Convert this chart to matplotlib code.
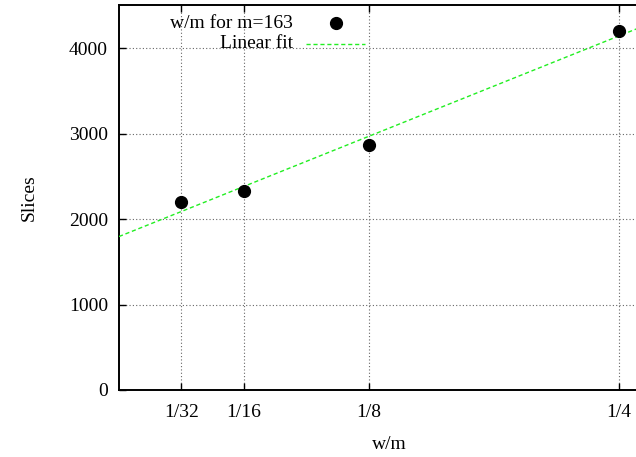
import numpy as np
import matplotlib
matplotlib.use('Agg')
import matplotlib.pyplot as plt
from matplotlib.lines import Line2D

plt.rcParams['font.family'] = ['Liberation Serif', 'DejaVu Serif']

# data
ratios = [1 / 32, 1 / 16, 1 / 8, 1 / 4]
tick_labels = ['1/32', '1/16', '1/8', '1/4']
slices = [2195, 2328, 2863, 4195]
y_ticks = [0, 1000, 2000, 3000, 4000]

# linear fit through the points
slope, icpt = np.polyfit(ratios, slices, 1)

FS = 14

fig = plt.figure(figsize=(6.36, 4.57), dpi=100)
# frame runs past the right edge of the picture, like the original
ax = fig.add_axes([119 / 636, 67 / 457, 540 / 636, 384.7 / 457])
ax.set_xlim(0, 0.27)
ax.set_ylim(0, 4500)

ax.set_xticks(ratios)
ax.set_xticklabels(tick_labels)
ax.set_yticks(y_ticks)
ax.tick_params(direction='in', length=5, width=1, top=True, right=True,
               labelsize=FS)
ax.tick_params(axis='x', pad=10)
ax.tick_params(axis='y', pad=8)
ax.grid(True, color='#666666', linestyle=(0, (1, 2)), linewidth=0.8)
for sp in ax.spines.values():
    sp.set_linewidth(1.4)

xs = np.linspace(0, 0.27, 50)
ax.plot(xs, slope * xs + icpt, color='#22ee22', linestyle=(0, (3, 2)),
        linewidth=1.0, zorder=3)
ax.plot(ratios, slices, 'o', color='black', markersize=8.5, zorder=4)

ax.set_xlabel('w/m', fontsize=FS, labelpad=11)
ax.set_ylabel('Slices', fontsize=FS, labelpad=22)

# gnuplot style key: right aligned text, sample to the right
def ax_x(px):
    return (px - 119) / 540

def ax_y(py):
    return (390 - py) / 384.7

ax.text(ax_x(293), ax_y(23), 'w/m for m=163', ha='right', va='center',
        fontsize=FS, transform=ax.transAxes)
ax.text(ax_x(293), ax_y(44), 'Linear fit', ha='right', va='center',
        fontsize=FS, transform=ax.transAxes)
ax.add_line(Line2D([ax_x(336)], [ax_y(23)], marker='o', color='black',
                   markersize=8.5, transform=ax.transAxes))
ax.add_line(Line2D([ax_x(306), ax_x(365)], [ax_y(44), ax_y(44)],
                   color='#22ee22', linestyle=(0, (3, 2)), linewidth=1.0,
                   transform=ax.transAxes))

fig.savefig('out.png', dpi=100)
